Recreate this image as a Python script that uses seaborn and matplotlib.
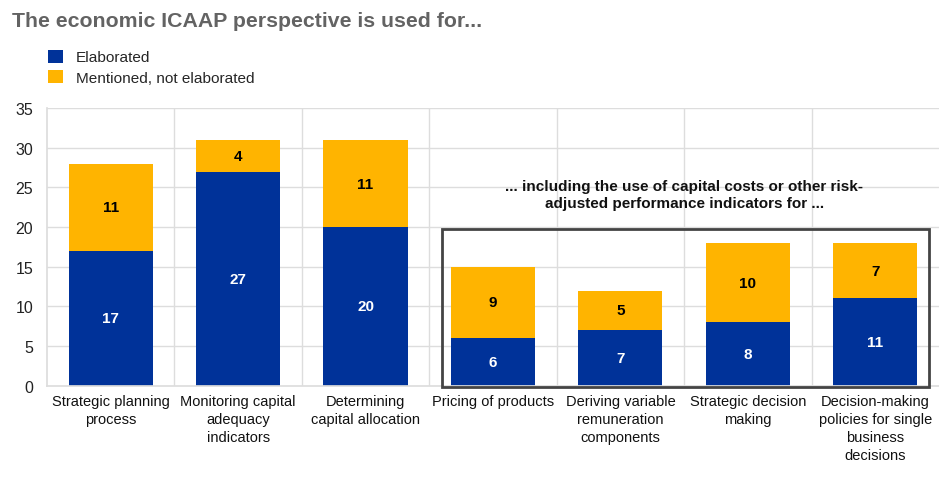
import matplotlib
matplotlib.use("Agg")
import matplotlib.pyplot as plt
from matplotlib.patches import Rectangle, Patch
import seaborn as sns
import pandas as pd
import numpy as np

categories = [
    "Strategic planning\nprocess",
    "Monitoring capital\nadequacy\nindicators",
    "Determining\ncapital allocation",
    "Pricing of products",
    "Deriving variable\nremuneration\ncomponents",
    "Strategic decision\nmaking",
    "Decision-making\npolicies for single\nbusiness\ndecisions",
]
elaborated = [17, 27, 20, 6, 7, 8, 11]
mentioned = [11, 4, 11, 9, 5, 10, 7]
series_names = ["Elaborated", "Mentioned, not elaborated"]
yticks = [0, 5, 10, 15, 20, 25, 30, 35]

BLUE = "#003299"
YELLOW = "#FFB400"

sns.set_theme(style="white")
plt.rcParams["font.family"] = ["Liberation Sans", "DejaVu Sans"]

df = pd.DataFrame({"category": categories, "elab": elaborated, "ment": mentioned})
df["total"] = df["elab"] + df["ment"]

fig = plt.figure(figsize=(9.39, 4.81), dpi=100)
ax = fig.add_axes([0.050, 0.196, 0.950, 0.577])

sns.barplot(data=df, x="category", y="total", color=YELLOW, width=0.66,
            saturation=1, ax=ax, edgecolor="none")
sns.barplot(data=df, x="category", y="elab", color=BLUE, width=0.66,
            saturation=1, ax=ax, edgecolor="none")

ax.set_ylim(0, 35)
ax.set_xlim(-0.5, len(categories) - 0.5)
ax.set_yticks(yticks)
ax.set_yticklabels([str(t) for t in yticks], fontsize=11.5, color="#222222")
ax.set_xlabel("")
ax.set_ylabel("")
ax.set_xticks(range(len(categories)))
ax.set_xticklabels(categories, fontsize=10.5, color="#111111",
                   linespacing=1.35)
ax.tick_params(axis="y", length=0, pad=10)
ax.tick_params(axis="x", length=0, pad=6)

# gridlines: horizontal at ticks, vertical between categories
for t in yticks[1:]:
    ax.axhline(t, color="#dddddd", lw=1, zorder=0)
for b in np.arange(0.5, len(categories) - 0.5, 1):
    ax.axvline(b, color="#dddddd", lw=1, zorder=0)
for b in ax.patches:
    b.set_zorder(2)
for s in ["top", "right"]:
    ax.spines[s].set_visible(False)
ax.spines["left"].set_color("#dddddd")
ax.spines["bottom"].set_color("#dddddd")

# value labels
for i, (e, m) in enumerate(zip(elaborated, mentioned)):
    ax.text(i, e / 2, str(e), ha="center", va="center", color="white",
            fontsize=11, fontweight="bold", zorder=3)
    ax.text(i, e + m / 2, str(m), ha="center", va="center", color="black",
            fontsize=11, fontweight="bold", zorder=3)

# frame around the last four categories
box = Rectangle((2.60, -0.15), 3.82, 19.95, fill=False, edgecolor="#444444",
                lw=2, zorder=4, clip_on=False)
ax.add_patch(box)
ax.text(4.5, 24.1, "... including the use of capital costs or other risk-\nadjusted performance indicators for ...",
        ha="center", va="center", fontsize=11, fontweight="bold",
        color="#111111", linespacing=1.25, zorder=4)

fig.text(0.013, 0.955, "The economic ICAAP perspective is used for...",
         fontsize=15.3, fontweight="bold", color="#636363", va="center")

handles = [Patch(facecolor=BLUE, edgecolor="none"),
           Patch(facecolor=YELLOW, edgecolor="none")]
fig.legend(handles, series_names, loc="upper left", bbox_to_anchor=(0.051, 0.895),
           frameon=False, fontsize=11.1, handlelength=0.95, handleheight=0.95,
           handletextpad=0.85, labelspacing=0.36, borderaxespad=0, borderpad=0)

fig.savefig("out.png", dpi=100, facecolor="white")
